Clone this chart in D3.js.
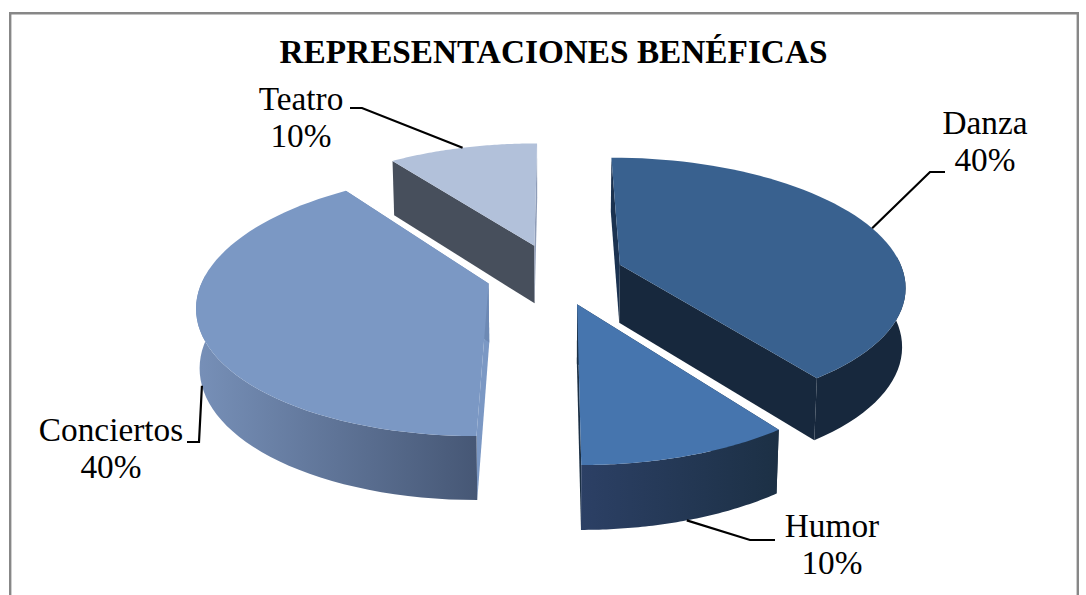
<!DOCTYPE html>
<html>
<head>
<meta charset="utf-8">
<script src="https://cdn.jsdelivr.net/npm/d3@7"></script>
<style>
  html, body { margin: 0; padding: 0; background: #fff; overflow: hidden; }
  text { font-family: "Liberation Serif", serif; font-size: 33.3px; fill: #000; }
</style>
</head>
<body>
<svg class="mainsvg" width="1086" height="595"></svg>
<script>
var title = "REPRESENTACIONES BENÉFICAS";
var categories = ["Danza", "Humor", "Conciertos", "Teatro"];
var values = [40, 10, 40, 10];
var percentLabels = ["40%", "10%", "40%", "10%"];
var topColors = ["#39618f", "#4675ae", "#7b98c4", "#b2c1da"];
var startFaceColors = ["#1b3250", "#1c3045", "#7b98c4", "#474f5c"];
var endFaceColors = ["#17283d", "#1c3045", "#6d89b4", "#8f9db8"];
var rimLeftColors = ["#17283d", "#2c4065", "#7790b8", "#474f5c"];
var rimRightColors = ["#17283d", "#1c3045", "#465775", "#474f5c"];
var drawOrder = [3, 0, 2, 1];

// label centre + first baseline, and leader elbow points
var labelX = [985, 832, 111, 301];
var labelY = [134, 537, 441, 110];
var leaderElbow = [[[930, 172], [945, 172]], [[750, 540], [775, 540]], [[199, 442], [187, 442]], [[362, 108], [350, 108]]];

var width = 1086, height = 595;
var cx = 555, cy = 274;
var radiusX = 284, radiusY = 126;
var perspective = 0.1526;
var explode = 0.243;
var depth = 58.5;
var bottomShrink = 0.99;

var svg = d3.select(".mainsvg");
var defs = svg.append("defs");

var xScale = d3.scaleLinear().domain([-1, 1]).range([cx - radiusX, cx + radiusX]);
var yScale = d3.scaleLinear().domain([-1, 1]).range([cy - radiusY, cy + radiusY]);

// disc coordinates to screen, z = 0 is the top of the pie and z = 1 the bottom
var project = function(u, v, z) {
    var w = 1 / (1 - perspective * v);
    var x = xScale(u * w), y = yScale(v * w);
    if (z) {
        x = cx + (x - cx) * bottomShrink;
        y = y + depth * Math.sqrt(w);
    }
    return [x, y];
};

var piePoint = function(d, angle, r, z) {
    var mid = (d.startAngle + d.endAngle) / 2;
    var u = r * Math.sin(angle) + explode * Math.sin(mid);
    var v = -r * Math.cos(angle) - explode * Math.cos(mid);
    return project(u, v, z);
};

var line = d3.line();

var arcAngles = function(d) {
    return d3.range(0, 61).map(function(i) {
        return d.startAngle + (d.endAngle - d.startAngle) * i / 60;
    });
};

var arcPoints = function(d, z) {
    return arcAngles(d).map(function(a) { return piePoint(d, a, 1, z); });
};

// only the part of the rim that looks at the viewer gets drawn
var frontRim = function(d, z) {
    return arcAngles(d)
        .filter(function(a) { return Math.cos(a) < 0.1; })
        .map(function(a) { return piePoint(d, a, 1, z); });
};

var arcs = d3.pie().sort(null)(values);

// frame (its bottom edge is cut off in the picture)
svg.append("path")
    .attr("d", "M10.2," + height + "V13.2H1077.8V" + height)
    .attr("fill", "none")
    .attr("stroke", "#878787")
    .attr("stroke-width", 2.4);

drawOrder.forEach(function(i) {
    var d = arcs[i];
    var g = svg.append("g").attr("class", "slice");
    var top = arcPoints(d, 0), bottom = arcPoints(d, 1);
    var rimTop = frontRim(d, 0), rimBottom = frontRim(d, 1);
    var apexTop = piePoint(d, 0, 0, 0), apexBottom = piePoint(d, 0, 0, 1);

    var xs = top.concat(bottom).map(function(p) { return p[0]; });
    var grad = defs.append("linearGradient")
        .attr("id", "rim" + i)
        .attr("gradientUnits", "userSpaceOnUse")
        .attr("x1", d3.min(xs)).attr("x2", d3.max(xs))
        .attr("y1", 0).attr("y2", 0);
    grad.append("stop").attr("offset", 0).attr("stop-color", rimLeftColors[i]);
    grad.append("stop").attr("offset", 1).attr("stop-color", rimRightColors[i]);

    g.append("path")
        .attr("d", line([apexTop, top[0], bottom[0], apexBottom]) + "Z")
        .attr("fill", startFaceColors[i]);
    g.append("path")
        .attr("d", line([apexTop, top[60], bottom[60], apexBottom]) + "Z")
        .attr("fill", endFaceColors[i]);
    if (rimTop.length) {
        g.append("path")
            .attr("d", line(rimTop.concat(rimBottom.slice().reverse())) + "Z")
            .attr("fill", "url(#rim" + i + ")");
    }
    g.append("path")
        .attr("d", line([apexTop].concat(top)) + "Z")
        .attr("fill", topColors[i]);
});

// leader lines start on the pie at the middle of each slice
categories.forEach(function(name, i) {
    var d = arcs[i];
    var mid = (d.startAngle + d.endAngle) / 2;
    var onBottom = (i === 1 || i === 2) ? 1 : 0;
    var start = piePoint(d, mid, 1, onBottom);
    svg.append("path")
        .attr("d", line([start].concat(leaderElbow[i])))
        .attr("fill", "none")
        .attr("stroke", "#000")
        .attr("stroke-width", 2.2);
});

svg.selectAll(".label")
    .data(categories)
    .enter().append("text")
    .attr("class", "label")
    .attr("text-anchor", "middle")
    .attr("x", function(d, i) { return labelX[i]; })
    .attr("y", function(d, i) { return labelY[i]; })
    .text(function(d) { return d; });

svg.selectAll(".percent")
    .data(percentLabels)
    .enter().append("text")
    .attr("class", "percent")
    .attr("text-anchor", "middle")
    .attr("x", function(d, i) { return labelX[i]; })
    .attr("y", function(d, i) { return labelY[i] + 37; })
    .text(function(d) { return d; });

svg.append("text")
    .attr("x", 553.5)
    .attr("y", 63)
    .attr("text-anchor", "middle")
    .style("font-weight", "bold")
    .text(title);
</script>
</body>
</html>
